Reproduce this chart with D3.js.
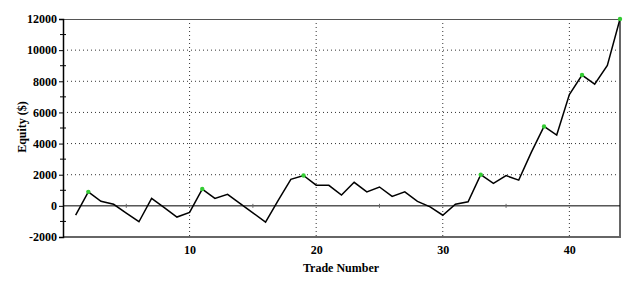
<!DOCTYPE html>
<html>
<head>
<meta charset="utf-8">
<title>Equity Curve</title>
<script src="https://d3js.org/d3.v7.min.js"></script>
<style>
	body { margin: 0; background: #fff; }
</style>
</head>
<body>
<div id="chart"></div>
<script>
// trade number -> equity ($)
var trades = d3.range(1, 45);
var equity = [
	-600, 900, 290, 100, -460, -1020, 480, -120, -720, -420,
	1080, 480, 740, 150, -450, -1040, 350, 1700, 1950, 1330,
	1320, 690, 1510, 900, 1210, 610, 900, 290, -60, -600,
	110, 260, 2000, 1440, 1940, 1650, 3450, 5100, 4550, 7150,
	8400, 7820, 9020, 12000
];
// trades that set a new equity high
var highs = [2, 11, 19, 33, 38, 41, 44];
var yTicks = [-2000, 0, 2000, 4000, 6000, 8000, 10000, 12000];
var xTicks = [10, 20, 30, 40];

var serif = "'Liberation Serif', 'Times New Roman', 'DejaVu Serif', serif";

var width = 625, height = 283;
var margin = { top: 19, right: 5, bottom: 46, left: 63 };
var w = width - margin.left - margin.right,
	h = height - margin.top - margin.bottom;

var svg = d3.select("#chart").append("svg")
	.attr("width", width)
	.attr("height", height);

var g = svg.append("g")
	.attr("transform", "translate(" + margin.left + "," + margin.top + ")");

var x = d3.scaleLinear().domain([0, 44]).range([0, w]);
var y = d3.scaleLinear().domain([-2000, 12000]).range([h, 0]);

// dotted grid
g.append("g").selectAll("line")
	.data(yTicks.filter(function(d) { return d > 0 && d < 12000; }))
	.enter().append("line")
	.attr("x1", 0).attr("x2", w)
	.attr("y1", function(d) { return y(d); })
	.attr("y2", function(d) { return y(d); })
	.attr("stroke", "#333")
	.attr("stroke-dasharray", "1,3");

g.append("g").selectAll("line")
	.data(xTicks)
	.enter().append("line")
	.attr("x1", function(d) { return x(d); })
	.attr("x2", function(d) { return x(d); })
	.attr("y1", 0).attr("y2", h)
	.attr("stroke", "#333")
	.attr("stroke-dasharray", "1,3");

// frame
g.append("line").attr("x1", 0).attr("x2", w).attr("y1", 0.5).attr("y2", 0.5)
	.attr("stroke", "#555");
g.append("line").attr("x1", w).attr("x2", w).attr("y1", 0).attr("y2", h)
	.attr("stroke", "#666").attr("stroke-width", 2);
g.append("line").attr("x1", 0).attr("x2", w + 1).attr("y1", h).attr("y2", h)
	.attr("stroke", "#666").attr("stroke-width", 2);

// zero line with minor ticks
g.append("line").attr("x1", 0).attr("x2", w)
	.attr("y1", y(0)).attr("y2", y(0))
	.attr("stroke", "#000");
g.append("g").selectAll("line")
	.data([5, 15, 25, 35])
	.enter().append("line")
	.attr("x1", function(d) { return x(d); })
	.attr("x2", function(d) { return x(d); })
	.attr("y1", y(0) - 2).attr("y2", y(0) + 2)
	.attr("stroke", "#666");

// y axis
var yAxis = g.append("g")
	.call(d3.axisLeft(y).tickValues(yTicks).tickSize(4).tickPadding(2)
		.tickFormat(function(d) { return String(d); }));
yAxis.select(".domain").attr("stroke", "#000").attr("stroke-width", 1.5);

g.append("g").selectAll("line")
	.data(d3.range(-1000, 12000, 2000))
	.enter().append("line")
	.attr("x1", -3).attr("x2", 3)
	.attr("y1", function(d) { return y(d); })
	.attr("y2", function(d) { return y(d); })
	.attr("stroke", "#000");

// x axis labels
var xAxis = g.append("g")
	.attr("transform", "translate(0," + h + ")")
	.call(d3.axisBottom(x).tickValues(xTicks).tickSize(0).tickPadding(8));
xAxis.select(".domain").remove();

svg.selectAll(".tick text")
	.style("font-family", serif)
	.style("font-weight", "bold")
	.style("font-size", "12px")
	.attr("fill", "#000");

// equity line
var line = d3.line()
	.x(function(d, i) { return x(trades[i]); })
	.y(function(d) { return y(d); });

g.append("path")
	.datum(equity)
	.attr("d", line)
	.attr("fill", "none")
	.attr("stroke", "#000")
	.attr("stroke-width", 1.5);

g.append("g").selectAll("circle")
	.data(highs)
	.enter().append("circle")
	.attr("cx", function(d) { return x(d); })
	.attr("cy", function(d) { return y(equity[d - 1]); })
	.attr("r", 2.2)
	.attr("fill", "#33cc33");

// axis titles
svg.append("text")
	.attr("x", 341)
	.attr("y", 272)
	.attr("text-anchor", "middle")
	.style("font-family", serif)
	.style("font-weight", "bold")
	.style("font-size", "12px")
	.text("Trade Number");

svg.append("text")
	.attr("transform", "translate(26,127) rotate(-90)")
	.attr("text-anchor", "middle")
	.style("font-family", serif)
	.style("font-weight", "bold")
	.style("font-size", "12px")
	.text("Equity ($)");
</script>
</body>
</html>
